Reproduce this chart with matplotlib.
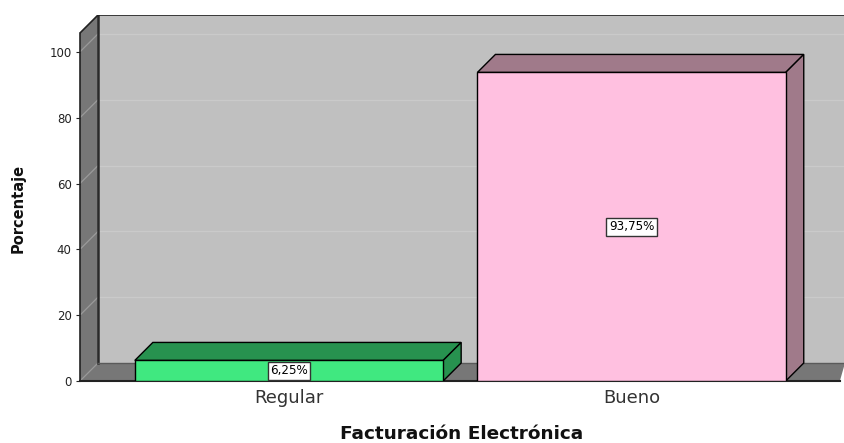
import matplotlib.pyplot as plt
from matplotlib.patches import Polygon, Rectangle

categories = ['Regular', 'Bueno']
percentages = [6.25, 93.75]
value_labels = ['6,25%', '93,75%']
yticks = [0, 20, 40, 60, 80, 100]

front_colors = ['#40E880', '#FFC0E0']
shade_colors = ['#27924F', '#A07A8A']

# 3d look: depth offset in data units
X0, X1 = -0.61, 1.623
YTOP = 111.2
DX, DY = 0.0526, 5.47
BAR_W = 0.9


def poly(ax, pts, fc, ec='black', lw=1.0, z=1):
    ax.add_patch(Polygon(pts, closed=True, fc=fc, ec=ec, lw=lw, zorder=z))


def main():
    fig = plt.figure(figsize=(8.45, 4.43), dpi=100)
    ax = fig.add_axes([80 / 845, 62 / 443, 765 / 845, 366 / 443])
    ax.set_xlim(X0, X1)
    ax.set_ylim(0, YTOP)

    # back wall
    ax.add_patch(Rectangle((X0 + DX, DY), X1 - X0 - DX, YTOP - DY,
                           fc='#C0C0C0', ec='none', zorder=0))
    # left side wall
    poly(ax, [(X0, 0), (X0 + DX, DY), (X0 + DX, YTOP), (X0, YTOP - DY)],
         '#777777', ec='none', z=0.5)
    # floor
    poly(ax, [(X0, 0), (X0 + DX, DY), (X1, DY), (X1 - 0.015, 0)],
         '#777777', ec='none', z=0.5)

    # gridlines on back wall and side wall
    for t in yticks:
        if t > 0:
            ax.plot([X0 + DX, X1], [t + DY, t + DY], color='#CACACA', lw=0.9, zorder=0.6)
        ax.plot([X0, X0 + DX], [t, t + DY], color='#9A9A9A', lw=0.9, zorder=0.6)

    # wall edges
    ax.plot([X0 + DX, X0 + DX], [DY, YTOP], color='#2A2A2A', lw=1.8, zorder=0.7)
    ax.plot([X0, X0 + DX, X1], [YTOP - DY, YTOP, YTOP], color='#222222', lw=1.2, zorder=0.7)
    ax.plot([X0, X1 - 0.015], [0, 0], color='#222222', lw=1.5, zorder=0.7, clip_on=False)
    ax.plot([X0 + DX, X1], [DY, DY], color='#5A5A5A', lw=1, zorder=0.7)

    # bars
    for i, v in enumerate(percentages):
        l, r = i - BAR_W / 2, i + BAR_W / 2
        poly(ax, [(l, v), (l + DX, v + DY), (r + DX, v + DY), (r, v)], shade_colors[i], z=2)
        poly(ax, [(r, 0), (r + DX, DY), (r + DX, v + DY), (r, v)], shade_colors[i], z=2)
        ax.add_patch(Rectangle((l, 0), BAR_W, v, fc=front_colors[i], ec='black', lw=1, zorder=3))
        ax.text(i, v / 2, value_labels[i], ha='center', va='center', fontsize=8.6,
                color='black', zorder=4,
                bbox=dict(boxstyle='square,pad=0.2', fc='white', ec='#333333', lw=1))

    for s in ['top', 'right', 'bottom']:
        ax.spines[s].set_visible(False)
    ax.spines['left'].set_bounds(0, YTOP - DY)
    ax.spines['left'].set_color('#222222')
    ax.spines['left'].set_linewidth(1.2)
    ax.set_yticks(yticks)
    ax.tick_params(axis='y', length=3, pad=3, labelsize=8.5, colors='#222222')
    ax.set_xticks(range(len(categories)))
    ax.set_xticklabels(categories)
    ax.tick_params(axis='x', length=0, pad=6, labelsize=13, labelcolor='#333333')
    ax.patch.set_visible(False)

    fig.text(18 / 845, 1 - 208 / 443, 'Porcentaje', rotation=90, ha='center', va='center',
             fontsize=10.5, fontweight='bold', color='#111111')
    fig.text(462 / 845, 1 - 434 / 443, 'Facturación Electrónica', ha='center', va='center',
             fontsize=13.3, fontweight='bold', color='#111111')

    fig.savefig('out.png', dpi=100)


if __name__ == '__main__':
    main()
